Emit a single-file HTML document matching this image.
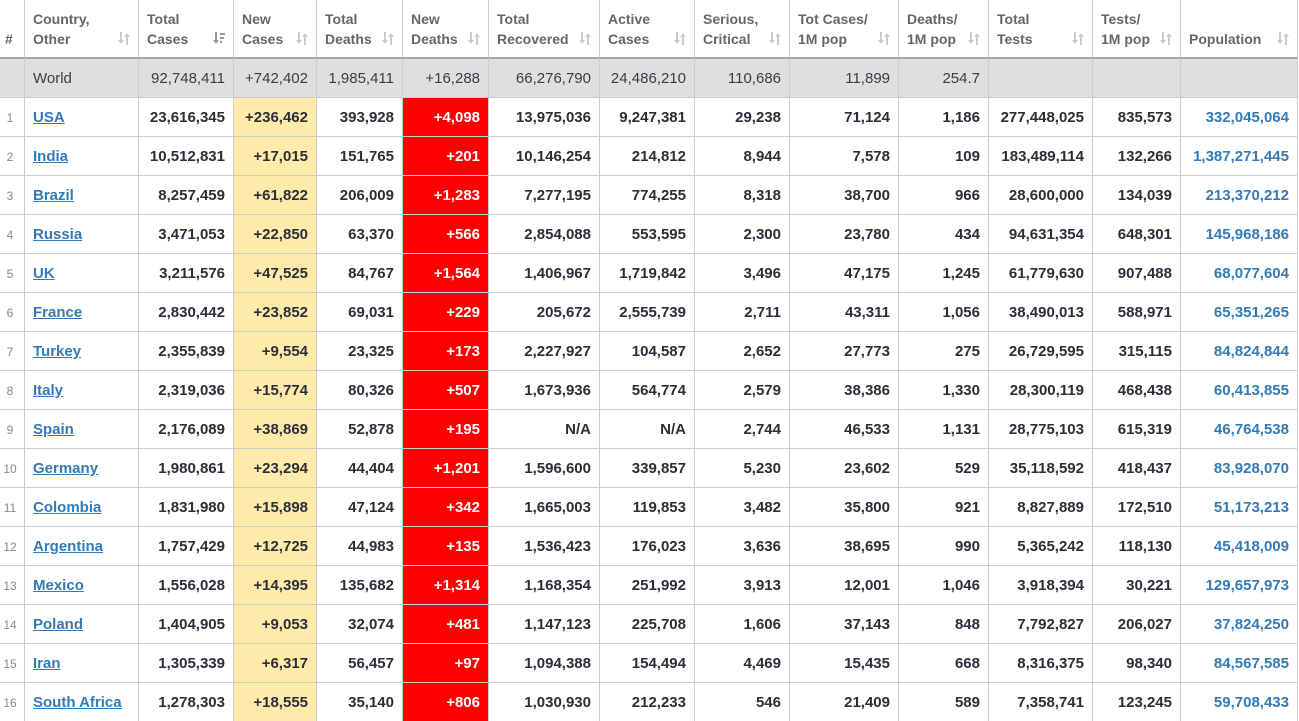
<!DOCTYPE html>
<html><head><meta charset="utf-8">
<style>
html,body{margin:0;padding:0;background:#fff;width:1299px;height:721px;overflow:hidden}
body{font-family:"Liberation Sans",Arial,sans-serif}
.r,.h{display:flex}
.r>div,.h>div{box-sizing:border-box;flex:none;border-right:1px solid #ccc;white-space:nowrap;overflow:hidden;position:relative}
.r>div{height:39px;border-bottom:1px solid #ccc;line-height:38px;padding-top:1px;text-align:right;padding-right:8px;font-weight:bold;font-size:15px;color:#2b2e38}
.h>div{height:59px;border-bottom:2px solid #a8a8a8;font-weight:bold;font-size:14px;color:#666;line-height:20px;padding:9px 0 0 8px;text-align:left}
.r>div:nth-child(1),.h>div:nth-child(1){width:25px}
.r>div:nth-child(2),.h>div:nth-child(2){width:114px}
.r>div:nth-child(3),.h>div:nth-child(3){width:95px}
.r>div:nth-child(4),.h>div:nth-child(4){width:83px}
.r>div:nth-child(5),.h>div:nth-child(5){width:86px}
.r>div:nth-child(6),.h>div:nth-child(6){width:86px}
.r>div:nth-child(7),.h>div:nth-child(7){width:111px}
.r>div:nth-child(8),.h>div:nth-child(8){width:95px}
.r>div:nth-child(9),.h>div:nth-child(9){width:95px}
.r>div:nth-child(10),.h>div:nth-child(10){width:109px}
.r>div:nth-child(11),.h>div:nth-child(11){width:90px}
.r>div:nth-child(12),.h>div:nth-child(12){width:104px}
.r>div:nth-child(13),.h>div:nth-child(13){width:88px}
.r>div:nth-child(14),.h>div:nth-child(14){width:117px}
.h>div:nth-child(1){padding-left:5px}
.r>div:nth-child(1){font-weight:normal;font-size:12px;color:#888;text-align:center;padding:1px 4px 0 0}
.r>div:nth-child(2){text-align:left;padding-left:8px}
.r>div:nth-child(2) a{color:#337ab7;text-decoration:underline}
.r>div:nth-child(4){background:#feeaa9}
.r>div:nth-child(6){background:#ff0000;color:#fff}
.r>div:nth-child(14){color:#337ab7}
.w>div{background:#dfdfdf !important;font-weight:normal !important;color:#3a3c44 !important}
.s{position:absolute;right:8px;bottom:12px;width:12px;height:13px}
</style></head><body>
<div class="h">
<div><br>#</div>
<div>Country,<br>Other<svg class="s" viewBox="0 0 12 13"><g fill="#ccc"><rect x="2" y="0" width="2" height="9"/><polygon points="0,8 6,8 3,12"/><rect x="8" y="4" width="2" height="9"/><polygon points="6,5 12,5 9,1"/></g></svg></div>
<div>Total<br>Cases<svg class="s" viewBox="0 0 12 13"><g fill="#999"><rect x="2" y="0" width="2" height="9"/><polygon points="0,8 6,8 3,12"/><rect x="7" y="1" width="5" height="2"/><rect x="7" y="5" width="4" height="2"/><rect x="7" y="9" width="2" height="2"/></g></svg></div>
<div>New<br>Cases<svg class="s" viewBox="0 0 12 13"><g fill="#ccc"><rect x="2" y="0" width="2" height="9"/><polygon points="0,8 6,8 3,12"/><rect x="8" y="4" width="2" height="9"/><polygon points="6,5 12,5 9,1"/></g></svg></div>
<div>Total<br>Deaths<svg class="s" viewBox="0 0 12 13"><g fill="#ccc"><rect x="2" y="0" width="2" height="9"/><polygon points="0,8 6,8 3,12"/><rect x="8" y="4" width="2" height="9"/><polygon points="6,5 12,5 9,1"/></g></svg></div>
<div>New<br>Deaths<svg class="s" viewBox="0 0 12 13"><g fill="#ccc"><rect x="2" y="0" width="2" height="9"/><polygon points="0,8 6,8 3,12"/><rect x="8" y="4" width="2" height="9"/><polygon points="6,5 12,5 9,1"/></g></svg></div>
<div>Total<br>Recovered<svg class="s" viewBox="0 0 12 13"><g fill="#ccc"><rect x="2" y="0" width="2" height="9"/><polygon points="0,8 6,8 3,12"/><rect x="8" y="4" width="2" height="9"/><polygon points="6,5 12,5 9,1"/></g></svg></div>
<div>Active<br>Cases<svg class="s" viewBox="0 0 12 13"><g fill="#ccc"><rect x="2" y="0" width="2" height="9"/><polygon points="0,8 6,8 3,12"/><rect x="8" y="4" width="2" height="9"/><polygon points="6,5 12,5 9,1"/></g></svg></div>
<div>Serious,<br>Critical<svg class="s" viewBox="0 0 12 13"><g fill="#ccc"><rect x="2" y="0" width="2" height="9"/><polygon points="0,8 6,8 3,12"/><rect x="8" y="4" width="2" height="9"/><polygon points="6,5 12,5 9,1"/></g></svg></div>
<div>Tot&nbsp;Cases/<br>1M pop<svg class="s" viewBox="0 0 12 13"><g fill="#ccc"><rect x="2" y="0" width="2" height="9"/><polygon points="0,8 6,8 3,12"/><rect x="8" y="4" width="2" height="9"/><polygon points="6,5 12,5 9,1"/></g></svg></div>
<div>Deaths/<br>1M pop<svg class="s" viewBox="0 0 12 13"><g fill="#ccc"><rect x="2" y="0" width="2" height="9"/><polygon points="0,8 6,8 3,12"/><rect x="8" y="4" width="2" height="9"/><polygon points="6,5 12,5 9,1"/></g></svg></div>
<div>Total<br>Tests<svg class="s" viewBox="0 0 12 13"><g fill="#ccc"><rect x="2" y="0" width="2" height="9"/><polygon points="0,8 6,8 3,12"/><rect x="8" y="4" width="2" height="9"/><polygon points="6,5 12,5 9,1"/></g></svg></div>
<div>Tests/<br>1M pop<svg class="s" viewBox="0 0 12 13"><g fill="#ccc"><rect x="2" y="0" width="2" height="9"/><polygon points="0,8 6,8 3,12"/><rect x="8" y="4" width="2" height="9"/><polygon points="6,5 12,5 9,1"/></g></svg></div>
<div><br>Population<svg class="s" viewBox="0 0 12 13"><g fill="#ccc"><rect x="2" y="0" width="2" height="9"/><polygon points="0,8 6,8 3,12"/><rect x="8" y="4" width="2" height="9"/><polygon points="6,5 12,5 9,1"/></g></svg></div>
</div>
<div class="r w"><div></div><div>World</div><div>92,748,411</div><div>+742,402</div><div>1,985,411</div><div>+16,288</div><div>66,276,790</div><div>24,486,210</div><div>110,686</div><div>11,899</div><div>254.7</div><div></div><div></div><div></div></div>
<div class="r"><div>1</div><div><a>USA</a></div><div>23,616,345</div><div>+236,462</div><div>393,928</div><div>+4,098</div><div>13,975,036</div><div>9,247,381</div><div>29,238</div><div>71,124</div><div>1,186</div><div>277,448,025</div><div>835,573</div><div>332,045,064</div></div>
<div class="r"><div>2</div><div><a>India</a></div><div>10,512,831</div><div>+17,015</div><div>151,765</div><div>+201</div><div>10,146,254</div><div>214,812</div><div>8,944</div><div>7,578</div><div>109</div><div>183,489,114</div><div>132,266</div><div>1,387,271,445</div></div>
<div class="r"><div>3</div><div><a>Brazil</a></div><div>8,257,459</div><div>+61,822</div><div>206,009</div><div>+1,283</div><div>7,277,195</div><div>774,255</div><div>8,318</div><div>38,700</div><div>966</div><div>28,600,000</div><div>134,039</div><div>213,370,212</div></div>
<div class="r"><div>4</div><div><a>Russia</a></div><div>3,471,053</div><div>+22,850</div><div>63,370</div><div>+566</div><div>2,854,088</div><div>553,595</div><div>2,300</div><div>23,780</div><div>434</div><div>94,631,354</div><div>648,301</div><div>145,968,186</div></div>
<div class="r"><div>5</div><div><a>UK</a></div><div>3,211,576</div><div>+47,525</div><div>84,767</div><div>+1,564</div><div>1,406,967</div><div>1,719,842</div><div>3,496</div><div>47,175</div><div>1,245</div><div>61,779,630</div><div>907,488</div><div>68,077,604</div></div>
<div class="r"><div>6</div><div><a>France</a></div><div>2,830,442</div><div>+23,852</div><div>69,031</div><div>+229</div><div>205,672</div><div>2,555,739</div><div>2,711</div><div>43,311</div><div>1,056</div><div>38,490,013</div><div>588,971</div><div>65,351,265</div></div>
<div class="r"><div>7</div><div><a>Turkey</a></div><div>2,355,839</div><div>+9,554</div><div>23,325</div><div>+173</div><div>2,227,927</div><div>104,587</div><div>2,652</div><div>27,773</div><div>275</div><div>26,729,595</div><div>315,115</div><div>84,824,844</div></div>
<div class="r"><div>8</div><div><a>Italy</a></div><div>2,319,036</div><div>+15,774</div><div>80,326</div><div>+507</div><div>1,673,936</div><div>564,774</div><div>2,579</div><div>38,386</div><div>1,330</div><div>28,300,119</div><div>468,438</div><div>60,413,855</div></div>
<div class="r"><div>9</div><div><a>Spain</a></div><div>2,176,089</div><div>+38,869</div><div>52,878</div><div>+195</div><div>N/A</div><div>N/A</div><div>2,744</div><div>46,533</div><div>1,131</div><div>28,775,103</div><div>615,319</div><div>46,764,538</div></div>
<div class="r"><div>10</div><div><a>Germany</a></div><div>1,980,861</div><div>+23,294</div><div>44,404</div><div>+1,201</div><div>1,596,600</div><div>339,857</div><div>5,230</div><div>23,602</div><div>529</div><div>35,118,592</div><div>418,437</div><div>83,928,070</div></div>
<div class="r"><div>11</div><div><a>Colombia</a></div><div>1,831,980</div><div>+15,898</div><div>47,124</div><div>+342</div><div>1,665,003</div><div>119,853</div><div>3,482</div><div>35,800</div><div>921</div><div>8,827,889</div><div>172,510</div><div>51,173,213</div></div>
<div class="r"><div>12</div><div><a>Argentina</a></div><div>1,757,429</div><div>+12,725</div><div>44,983</div><div>+135</div><div>1,536,423</div><div>176,023</div><div>3,636</div><div>38,695</div><div>990</div><div>5,365,242</div><div>118,130</div><div>45,418,009</div></div>
<div class="r"><div>13</div><div><a>Mexico</a></div><div>1,556,028</div><div>+14,395</div><div>135,682</div><div>+1,314</div><div>1,168,354</div><div>251,992</div><div>3,913</div><div>12,001</div><div>1,046</div><div>3,918,394</div><div>30,221</div><div>129,657,973</div></div>
<div class="r"><div>14</div><div><a>Poland</a></div><div>1,404,905</div><div>+9,053</div><div>32,074</div><div>+481</div><div>1,147,123</div><div>225,708</div><div>1,606</div><div>37,143</div><div>848</div><div>7,792,827</div><div>206,027</div><div>37,824,250</div></div>
<div class="r"><div>15</div><div><a>Iran</a></div><div>1,305,339</div><div>+6,317</div><div>56,457</div><div>+97</div><div>1,094,388</div><div>154,494</div><div>4,469</div><div>15,435</div><div>668</div><div>8,316,375</div><div>98,340</div><div>84,567,585</div></div>
<div class="r"><div>16</div><div><a>South Africa</a></div><div>1,278,303</div><div>+18,555</div><div>35,140</div><div>+806</div><div>1,030,930</div><div>212,233</div><div>546</div><div>21,409</div><div>589</div><div>7,358,741</div><div>123,245</div><div>59,708,433</div></div>
</body></html>
